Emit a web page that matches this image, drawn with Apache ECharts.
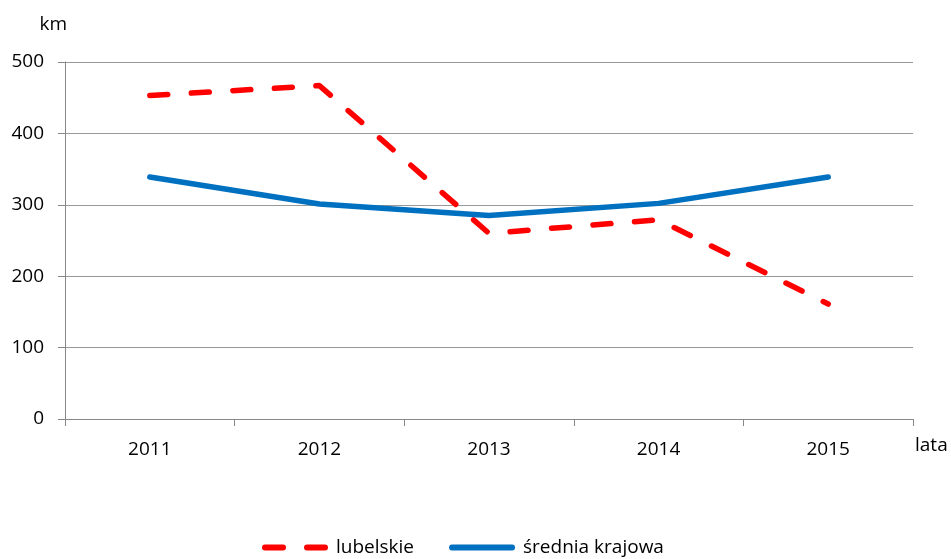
<!DOCTYPE html>
<html>
<head>
<meta charset="utf-8">
<script src="https://cdn.jsdelivr.net/npm/echarts@6/dist/echarts.min.js"></script>
<style>
html, body { margin: 0; padding: 0; background: #fff; }
#chart { width: 951px; height: 559px; }
</style>
</head>
<body>
<div id="chart"></div>
<script>
var years = ['2011', '2012', '2013', '2014', '2015'];
var lubelskie = [453, 467, 260, 279, 161];
var srednia = [339, 301, 285, 302, 339];

var myChart = echarts.init(document.getElementById('chart'));
var font = 'Open Sans';
option = {
    animation: false,
    grid: { left: 65, right: 38, top: 62, bottom: 140 },
    legend: {
        top: 533,
        left: 257,
        itemWidth: 60,
        itemHeight: 20,
        itemGap: 35,
        itemStyle: { opacity: 0 },//hide the dot in the legend icon
        lineStyle: { width: 6, cap: 'round' },
        textStyle: { fontFamily: font, fontSize: 19, color: '#000', padding: [0, 0, 0, 6] },
        data: [
            { name: 'lubelskie', lineStyle: { type: [18, 24] } },
            { name: 'średnia krajowa' }
        ]
    },
    xAxis: {
        type: 'category',
        data: years,
        boundaryGap: true,
        name: 'lata',
        nameLocation: 'end',
        nameGap: 2,
        nameTextStyle: { fontFamily: font, fontSize: 19, color: '#000', verticalAlign: 'top', padding: [17, 0, 0, 0] },
        axisLine: { lineStyle: { color: '#888', width: 1 } },
        axisTick: { show: true, interval: 0, length: 7, lineStyle: { color: '#888' } },
        axisLabel: { fontFamily: font, fontSize: 19, color: '#000', margin: 21 },
        splitLine: { show: false }
    },
    yAxis: {
        type: 'value',
        min: 0,
        max: 500,
        interval: 100,
        name: 'km',
        nameLocation: 'end',
        nameGap: 28,
        nameTextStyle: { fontFamily: font, fontSize: 19, color: '#000', align: 'right', padding: [0, -2, 0, 0] },
        axisLine: { show: true, lineStyle: { color: '#888', width: 1 } },
        axisTick: { show: true, length: 7, lineStyle: { color: '#888' } },
        axisLabel: { fontFamily: font, fontSize: 19, color: '#000', margin: 21 },
        splitLine: { lineStyle: { color: '#999', width: 1 } }
    },
    series: [
        {
            name: 'lubelskie',
            type: 'line',
            data: lubelskie,
            symbol: 'none',
            color: '#ff0000',
            lineStyle: { width: 5.5, color: '#ff0000', type: [18, 23.6], cap: 'round' }
        },
        {
            name: 'średnia krajowa',
            type: 'line',
            data: srednia,
            symbol: 'none',
            color: '#0070c0',
            lineStyle: { width: 5.5, color: '#0070c0', cap: 'round' }
        }
    ]
};
myChart.setOption(option);
</script>
</body>
</html>
